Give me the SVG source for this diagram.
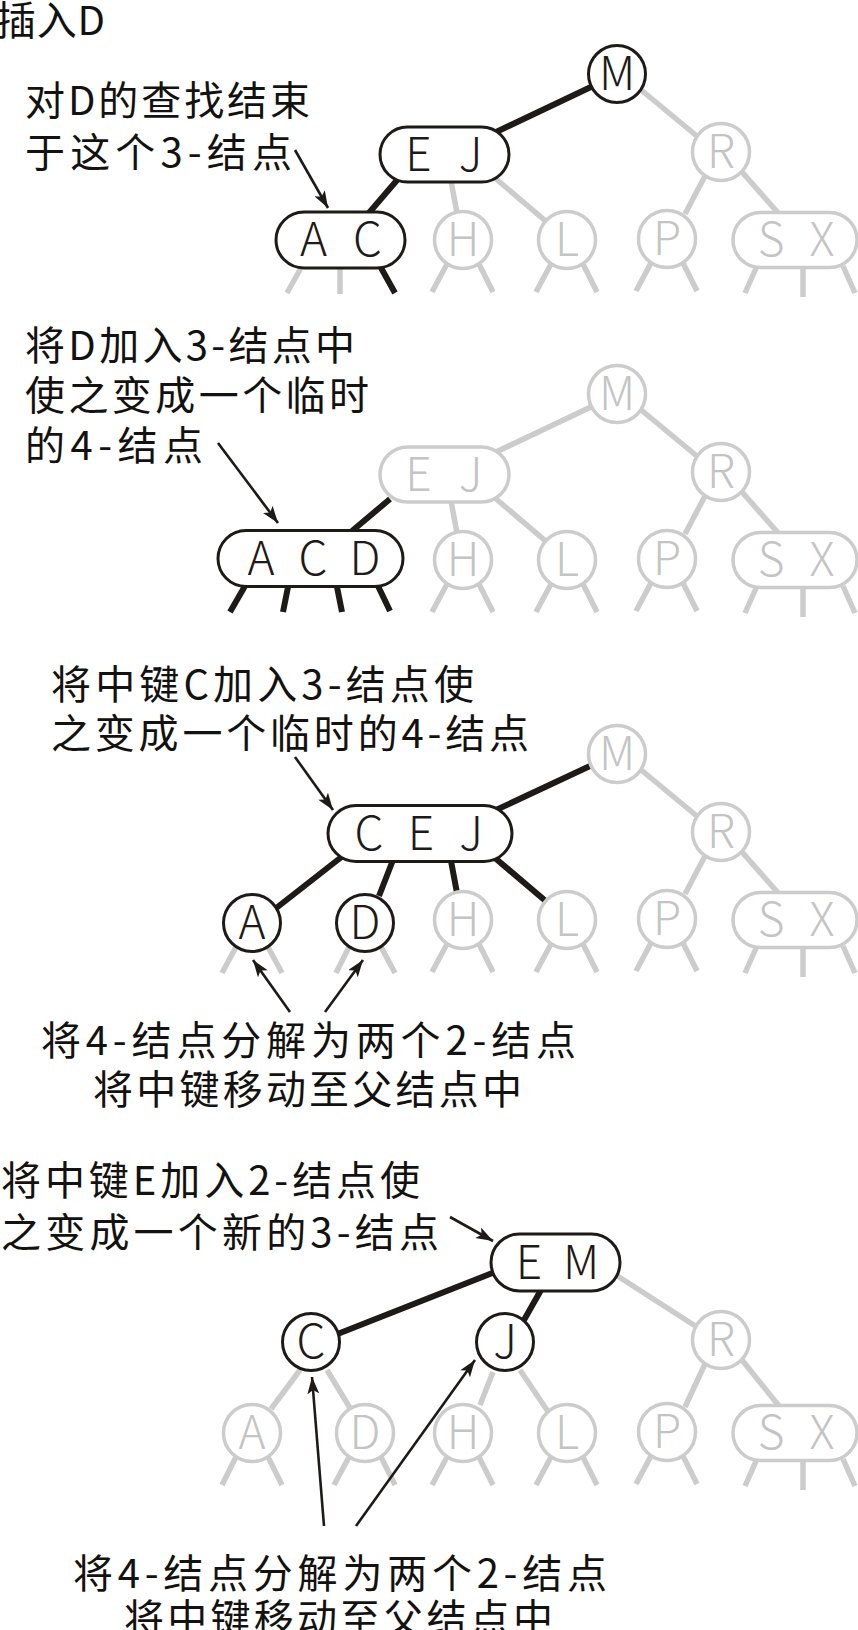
<svg xmlns="http://www.w3.org/2000/svg" width="858" height="1630" viewBox="0 0 858 1630">
  <style>
    .lbl { font-family: "Noto Sans CJK SC", sans-serif; font-size: 40px; fill: #141210; }
    .title { font-family: "Noto Sans CJK SC", sans-serif; font-size: 40px; fill: #141210; }
    .node text { font-family: "Noto Sans CJK SC", sans-serif; font-size: 46px; font-weight: 300; text-anchor: middle; }
    .dark circle, .dark rect { fill: #ffffff; stroke: #1e1a18; stroke-width: 3; }
    .dark text { fill: #1e1a18; }
    .light circle, .light rect { fill: #ffffff; stroke: #cccccc; stroke-width: 3.5; }
    .light text { fill: #c4c4c4; }
    .e-dark { stroke: #1e1a18; stroke-width: 6; fill: none; }
    .e-light { stroke: #cccccc; stroke-width: 5.5; fill: none; }
    .arrow { stroke: #1e1a18; stroke-width: 2.6; fill: none; marker-end: url(#head); }
  </style>
  <defs>
    <marker id="head" markerUnits="userSpaceOnUse" markerWidth="18" markerHeight="12" refX="17" refY="6" orient="auto">
      <path d="M0,0 L17,6 L0,12 L4,6 Z" fill="#1e1a18"/>
    </marker>
  </defs>
  <rect width="858" height="1630" fill="#ffffff"/>

  <!-- captions -->
  <g id="captions">
    <text class="title" x="-4" y="35" textLength="109">插入D</text>
    <text class="lbl" x="25" y="115" textLength="285">对D的查找结束</text>
    <text class="lbl" x="25" y="167" textLength="267">于这个3-结点</text>
    <text class="lbl" x="25" y="360" textLength="330">将D加入3-结点中</text>
    <text class="lbl" x="25" y="410" textLength="344">使之变成一个临时</text>
    <text class="lbl" x="25" y="460" textLength="178">的4-结点</text>
    <text class="lbl" x="51" y="699" textLength="423">将中键C加入3-结点使</text>
    <text class="lbl" x="51" y="748" textLength="478">之变成一个临时的4-结点</text>
    <text class="lbl" x="41" y="1055" textLength="535">将4-结点分解为两个2-结点</text>
    <text class="lbl" x="93" y="1104" textLength="429">将中键移动至父结点中</text>
    <text class="lbl" x="1" y="1195" textLength="419">将中键E加入2-结点使</text>
    <text class="lbl" x="1" y="1247" textLength="438">之变成一个新的3-结点</text>
    <text class="lbl" x="73" y="1588" textLength="534">将4-结点分解为两个2-结点</text>
    <text class="lbl" x="124" y="1633" textLength="429">将中键移动至父结点中</text>
  </g>

  <g id="connectors">
    <!-- step 1: search path M -> EJ -> AC -->
    <g id="edges-1">
      <path class="e-light" d="M640 89 L698 137 M451 181 L457 213 M495 178 L548 223 M705 176 L685 214 M742 172 L779 214
        M302 266 L287 293 M340 267 L340 294
        M447 264 L432 292 M479 264 L493 292 M551 264 L536 292 M583 264 L597 292
        M651 263 L636 291 M683 263 L697 291 M757 266 L745 293 M803 267 L803 297 M843 266 L855 293"/>
      <path class="e-dark" d="M593 86 L494 133 M398 179 L368 214 M380 266 L395 293"/>
    </g>
    <!-- step 2: temporary 4-node ACD -->
    <g id="edges-2" transform="translate(0,320)">
      <path class="e-light" d="M593 86 L494 133 M640 89 L698 137 M451 181 L457 213 M495 178 L548 223 M705 176 L685 214 M742 172 L779 214
        M447 264 L432 292 M479 264 L493 292 M551 264 L536 292 M583 264 L597 292
        M651 263 L636 291 M683 263 L697 291 M757 266 L745 293 M803 267 L803 297 M843 266 L855 293"/>
      <path class="e-dark" d="M390 179 L352 211 M245 266 L230 292 M288 267 L283 292 M337 267 L342 292 M378 266 L390 291"/>
    </g>
    <!-- step 3: C moved up into CEJ -->
    <g id="edges-3" transform="translate(0,680)">
      <path class="e-light" d="M640 89 L698 137 M705 176 L685 214 M742 172 L779 214
        M236 267 L222 293 M268 267 L282 293 M349 267 L336 293 M381 267 L395 293
        M447 264 L432 292 M479 264 L493 292 M551 264 L536 292 M583 264 L597 292
        M651 263 L636 291 M683 263 L697 291 M757 266 L745 293 M803 267 L803 297 M843 266 L855 293"/>
      <path class="e-dark" d="M590 86 L496 130 M344 175 L275 229 M393 180 L379 216 M451 181 L457 213 M495 178 L548 223"/>
    </g>
    <!-- step 4: E moved up into EM -->
    <g id="edges-4" transform="translate(0,1190)">
      <path class="e-light" d="M616 85 L700 139 M300 180 L271 219 M327 180 L350 218 M493 182 L480 215 M520 180 L549 223
        M705 174 L685 217 M742 170 L779 216
        M236 267 L222 295 M268 267 L282 295 M349 267 L334 295 M381 267 L395 295
        M447 267 L432 295 M479 267 L493 295 M551 267 L536 295 M583 267 L597 295
        M651 266 L636 294 M683 266 L697 294 M757 269 L745 296 M803 270 L803 300 M843 269 L855 296"/>
      <path class="e-dark" d="M495 82 L335 145 M541 100 L524 130"/>
    </g>
    <!-- callout arrows -->
    <g id="callouts">
      <path class="arrow" d="M295 150 L328 208"/>
      <path class="arrow" d="M218 443 L278 523"/>
      <path class="arrow" d="M295 757 L333 810"/>
      <path class="arrow" d="M290 1012 L253 960"/>
      <path class="arrow" d="M325 1012 L363 960"/>
      <path class="arrow" d="M450 1217 L493 1241"/>
      <path class="arrow" d="M324 1526 L312 1377"/>
      <path class="arrow" d="M356 1526 L475 1360"/>
    </g>
  </g>

  <!-- step 1 nodes -->
  <g id="p1-M" class="node dark" transform="translate(617,74)"><circle r="28.5"/><text y="16">M</text></g>
  <g id="p1-EJ" class="node dark" transform="translate(444.5,154.5)"><rect x="-64.5" y="-27.5" width="129" height="55" rx="27.5"/><text x="-26" y="16">E</text><text x="26" y="16">J</text></g>
  <g id="p1-R" class="node light" transform="translate(721,152)"><circle r="28.5"/><text y="16">R</text></g>
  <g id="p1-AC" class="node dark" transform="translate(340.5,240)"><rect x="-64.5" y="-28" width="129" height="56" rx="28"/><text x="-27" y="16">A</text><text x="27" y="16">C</text></g>
  <g id="p1-H" class="node light" transform="translate(463,240)"><circle r="28.5"/><text y="16">H</text></g>
  <g id="p1-L" class="node light" transform="translate(567,240)"><circle r="28.5"/><text y="16">L</text></g>
  <g id="p1-P" class="node light" transform="translate(667,239)"><circle r="28.5"/><text y="16">P</text></g>
  <g id="p1-SX" class="node light" transform="translate(795,240)"><rect x="-62" y="-27.5" width="124" height="55" rx="27.5"/><text x="-24" y="16">S</text><text x="27" y="16">X</text></g>

  <!-- step 2 nodes -->
  <g id="p2-M" class="node light" transform="translate(617,394)"><circle r="28.5"/><text y="16">M</text></g>
  <g id="p2-EJ" class="node light" transform="translate(444.5,474.5)"><rect x="-64.5" y="-27.5" width="129" height="55" rx="27.5"/><text x="-26" y="16">E</text><text x="26" y="16">J</text></g>
  <g id="p2-R" class="node light" transform="translate(721,472)"><circle r="28.5"/><text y="16">R</text></g>
  <g id="p2-ACD" class="node dark" transform="translate(310.5,558.5)"><rect x="-92.5" y="-28" width="185" height="56" rx="28"/><text x="-49.5" y="16">A</text><text x="2.5" y="16">C</text><text x="54.5" y="16">D</text></g>
  <g id="p2-H" class="node light" transform="translate(463,560)"><circle r="28.5"/><text y="16">H</text></g>
  <g id="p2-L" class="node light" transform="translate(567,560)"><circle r="28.5"/><text y="16">L</text></g>
  <g id="p2-P" class="node light" transform="translate(667,559)"><circle r="28.5"/><text y="16">P</text></g>
  <g id="p2-SX" class="node light" transform="translate(795,560)"><rect x="-62" y="-27.5" width="124" height="55" rx="27.5"/><text x="-24" y="16">S</text><text x="27" y="16">X</text></g>

  <!-- step 3 nodes -->
  <g id="p3-M" class="node light" transform="translate(617,754)"><circle r="28.5"/><text y="16">M</text></g>
  <g id="p3-CEJ" class="node dark" transform="translate(420,833.5)"><rect x="-92" y="-28" width="184" height="56" rx="28"/><text x="-51" y="16">C</text><text x="1" y="16">E</text><text x="51" y="16">J</text></g>
  <g id="p3-R" class="node light" transform="translate(721,832)"><circle r="28.5"/><text y="16">R</text></g>
  <g id="p3-A" class="node dark" transform="translate(252,923)"><circle r="28.5"/><text y="16">A</text></g>
  <g id="p3-D" class="node dark" transform="translate(365,923)"><circle r="28.5"/><text y="16">D</text></g>
  <g id="p3-H" class="node light" transform="translate(463,920)"><circle r="28.5"/><text y="16">H</text></g>
  <g id="p3-L" class="node light" transform="translate(567,920)"><circle r="28.5"/><text y="16">L</text></g>
  <g id="p3-P" class="node light" transform="translate(667,919)"><circle r="28.5"/><text y="16">P</text></g>
  <g id="p3-SX" class="node light" transform="translate(795,920)"><rect x="-62" y="-27.5" width="124" height="55" rx="27.5"/><text x="-24" y="16">S</text><text x="27" y="16">X</text></g>

  <!-- step 4 nodes -->
  <g id="p4-EM" class="node dark" transform="translate(555.5,1262.5)"><rect x="-64.5" y="-28.5" width="129" height="57" rx="28.5"/><text x="-26.5" y="16">E</text><text x="25.5" y="16">M</text></g>
  <g id="p4-C" class="node dark" transform="translate(311,1342)"><circle r="28.5"/><text y="16">C</text></g>
  <g id="p4-J" class="node dark" transform="translate(505,1342)"><circle r="28.5"/><text y="16">J</text></g>
  <g id="p4-R" class="node light" transform="translate(721,1340)"><circle r="28.5"/><text y="16">R</text></g>
  <g id="p4-A" class="node light" transform="translate(252,1433)"><circle r="28.5"/><text y="16">A</text></g>
  <g id="p4-D" class="node light" transform="translate(365,1433)"><circle r="28.5"/><text y="16">D</text></g>
  <g id="p4-H" class="node light" transform="translate(463,1433)"><circle r="28.5"/><text y="16">H</text></g>
  <g id="p4-L" class="node light" transform="translate(567,1433)"><circle r="28.5"/><text y="16">L</text></g>
  <g id="p4-P" class="node light" transform="translate(667,1432)"><circle r="28.5"/><text y="16">P</text></g>
  <g id="p4-SX" class="node light" transform="translate(795,1433)"><rect x="-62" y="-27.5" width="124" height="55" rx="27.5"/><text x="-24" y="16">S</text><text x="27" y="16">X</text></g>
</svg>
